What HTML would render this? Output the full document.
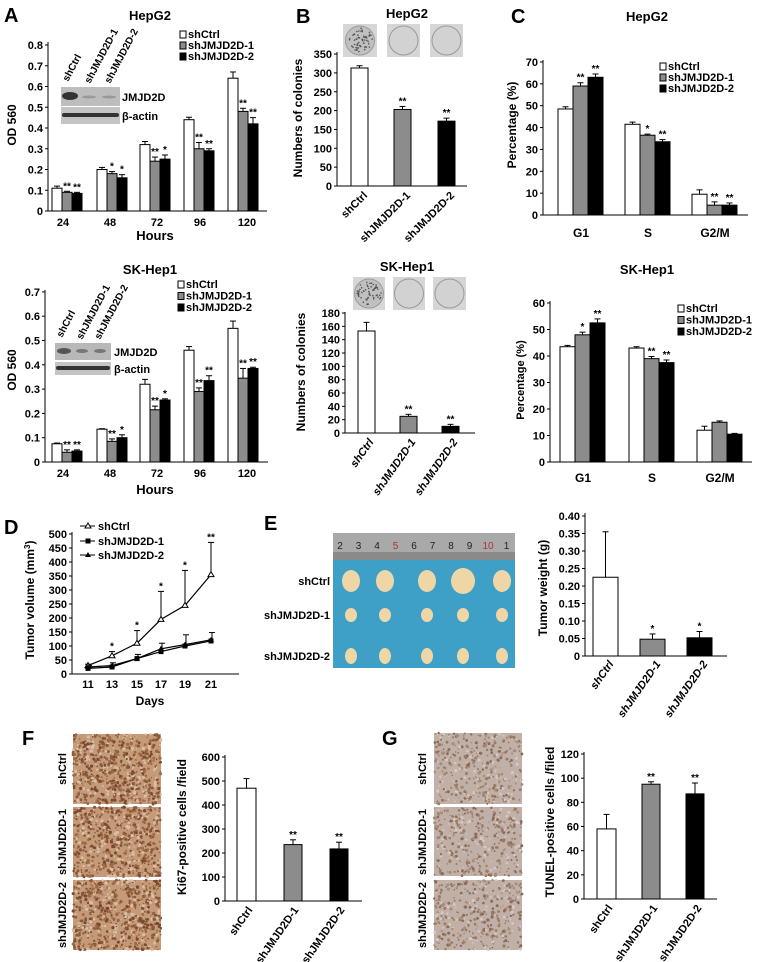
<!DOCTYPE html>
<html><head><meta charset="utf-8"><style>
html,body{margin:0;padding:0;background:#fff}
svg{display:block;font-family:"Liberation Sans",Arial,sans-serif;font-weight:bold}
</style></head><body>
<svg id="s" width="762" height="962" viewBox="0 0 762 962" xmlns="http://www.w3.org/2000/svg">
<g id="g"></g>
</svg>
<script>
var o=[];
var seed=12345;function rnd(){seed=(seed*16807)%2147483647;return seed/2147483647;}
function t(x,y,s,fs,anchor,extra){o.push('<text x="'+x+'" y="'+y+'" font-size="'+(fs||11)+'" text-anchor="'+(anchor||'start')+'" '+(extra||'')+'>'+s+'</text>');}
function l(x1,y1,x2,y2,w){o.push('<line x1="'+x1+'" y1="'+y1+'" x2="'+x2+'" y2="'+y2+'" stroke="#000" stroke-width="'+(w||1)+'"/>');}
function r(x,y,w,h,f,st){o.push('<rect x="'+x+'" y="'+y+'" width="'+w+'" height="'+h+'" fill="'+f+'"'+(st?' stroke="#000" stroke-width="1"':'')+'/>');}
var F=['#fff','#8c8c8c','#000'];
function yaxis(ax,y0,ppu,vals,fmt,top,xend){
 l(ax,y0,ax,top);l(ax,y0,xend,y0);
 vals.forEach(function(v){var y=y0-v*ppu;l(ax-3,y,ax,y);t(ax-5,y+4,fmt(v),11,'end');});
}
function bar(x,w,y0,ppu,v,e,f,star){
 var y=y0-v*ppu;r(x,y,w,v*ppu,f,1);
 if(e){var ye=y-e*ppu;l(x+w/2,y,x+w/2,ye);l(x+w/2-3,ye,x+w/2+3,ye);}
 if(star)t(x+w/2,y-(e||0)*ppu-2,star,10,'middle');
}
function legend(x,y,dy,fs){var n=['shCtrl','shJMJD2D-1','shJMJD2D-2'];n.forEach(function(s,i){r(x,y+i*dy-7,6,7,F[i],1);t(x+8,y+i*dy,s,fs||11);});}
function rot(x,y,s,ang,fs,it){o.push('<text transform="translate('+x+','+y+') rotate('+ang+')" font-size="'+(fs||11)+'" text-anchor="end"'+(it?' font-style="italic"':'')+'>'+s+'</text>');}
function vlab(x,y,s,fs){o.push('<text transform="translate('+x+','+y+') rotate(-90)" font-size="'+(fs||12)+'" text-anchor="middle">'+s+'</text>');}
function speck(x,y,w,h,bg,cols,n,rmax){r(x,y,w,h,bg);for(var i=0;i<n;i++){var c=cols[Math.floor(rnd()*cols.length)];o.push('<circle cx="'+(x+rnd()*w).toFixed(1)+'" cy="'+(y+rnd()*h).toFixed(1)+'" r="'+(0.6+rnd()*rmax).toFixed(1)+'" fill="'+c+'"/>');}}
var f1=function(v){return v==0?'0':v.toFixed(1)};
var fi=function(v){return ''+v};
var groupsA=[52,97,140,184,228],labsA=['24','48','72','96','120'],labXA=[63,110,157,200,247];
// ---- A top
t(4,22,'A',20);t(150,20,'HepG2',13,'middle');
var ppu=207.5,y0=211;
yaxis(48,y0,ppu,[0,.1,.2,.3,.4,.5,.6,.7,.8],f1,42,267);
var At=[[.11,.09,.085],[.2,.18,.16],[.32,.24,.25],[.44,.3,.29],[.64,.48,.42]],
Ate=[[.01,.005,.005],[.01,.01,.015],[.015,.02,.02],[.012,.03,.01],[.03,.015,.03]],
Ats=[['','**','**'],['','*','*'],['','**','*'],['','**','**'],['','**','**']];
for(var i=0;i<5;i++){for(var j=0;j<3;j++)bar(groupsA[i]+j*10,10,y0,ppu,At[i][j],Ate[i][j],F[j],Ats[i][j]);t(labXA[i],226,labsA[i],11,'middle');}
t(155,240,'Hours',13,'middle');vlab(16,125,'OD 560',12);
legend(180,38,11,11);
r(61,87,59,19,'#bdbdbd');r(61,107,59,17,'#c4c4c4');
o.push('<ellipse cx="70" cy="96" rx="8" ry="4" fill="#333"/><ellipse cx="89" cy="97" rx="7" ry="1.5" fill="#999"/><ellipse cx="109" cy="97" rx="7" ry="1.5" fill="#999"/>');
o.push('<rect x="62" y="113" width="57" height="4" fill="#333" rx="2"/>');
t(122,101,'JMJD2D',11);t(122,120,'β-actin',11);
o.push('<text transform="translate(68,82) rotate(-62)" font-size="10">shCtrl</text><text transform="translate(90,84) rotate(-62)" font-size="10">shJMJD2D-1</text><text transform="translate(110,84) rotate(-62)" font-size="10">shJMJD2D-2</text>');
// ---- A bottom
t(150,274,'SK-Hep1',13,'middle');
ppu=243;y0=462;
yaxis(45,y0,ppu,[0,.1,.2,.3,.4,.5,.6,.7],f1,290,268);
var Ab=[[.075,.04,.045],[.135,.085,.1],[.32,.215,.255],[.46,.29,.335],[.55,.345,.385]],
Abe=[[.003,.01,.005],[.002,.01,.012],[.02,.015,.005],[.015,.015,.02],[.03,.04,.005]],
Abs=[['','**','**'],['','**','*'],['','**','*'],['','**','**'],['','**','**']];
for(var i=0;i<5;i++){for(var j=0;j<3;j++)bar(groupsA[i]+j*10,10,y0,ppu,Ab[i][j],Abe[i][j],F[j],Abs[i][j]);t(labXA[i],477,labsA[i],11,'middle');}
t(155,494,'Hours',13,'middle');vlab(16,370,'OD 560',12);
legend(178,288,11.5,11);
r(55,343,56,17,'#b8b8b8');r(55,362,56,13,'#c4c4c4');
o.push('<ellipse cx="64" cy="351" rx="7" ry="3" fill="#555"/><ellipse cx="82" cy="351" rx="6" ry="2" fill="#777"/><ellipse cx="100" cy="351" rx="6" ry="2" fill="#777"/><rect x="56" y="366" width="54" height="4" fill="#333" rx="2"/>');
t(114,356,'JMJD2D',11);t(114,373,'β-actin',11);
o.push('<text transform="translate(62,338) rotate(-62)" font-size="10">shCtrl</text><text transform="translate(82,340) rotate(-62)" font-size="10">shJMJD2D-1</text><text transform="translate(100,340) rotate(-62)" font-size="10">shJMJD2D-2</text>');
// ---- B top
t(296,23,'B',20);t(407,18,'HepG2',13,'middle');
function dish(x,y,w,h,dark){r(x,y,w,h,'#d6d6d6');var cx=x+w/2,cy=y+h/2,R=h/2-2;o.push('<circle cx="'+cx+'" cy="'+cy+'" r="'+R+'" fill="'+(dark?'#c0c0c0':'#d2d2d2')+'" stroke="#999"/>');if(dark){for(var i=0;i<60;i++){var a=rnd()*6.283,d=Math.sqrt(rnd())*(R-2);o.push('<circle cx="'+(cx+Math.cos(a)*d).toFixed(1)+'" cy="'+(cy+Math.sin(a)*d).toFixed(1)+'" r="0.8" fill="#555"/>');}}}
dish(343,24,34,33,1);dish(387,24,33,33);dish(430,24,33,33);
ppu=0.377;y0=186;
yaxis(337,y0,ppu,[0,50,100,150,200,250,300,350],fi,52,467);
bar(351,17,y0,ppu,313,6,F[0]);bar(394,17,y0,ppu,203,8,F[1],'**');bar(438,17,y0,ppu,172,8,F[2],'**');
rot(368,196,'shCtrl',-45);rot(411,196,'shJMJD2D-1',-45);rot(455,196,'shJMJD2D-2',-45);
vlab(302,118,'Numbers of colonies',12);
// ---- B bottom
t(407,271,'SK-Hep1',13,'middle');
dish(353,277,32,33,1);dish(393,277,32,33);dish(433,277,33,33);
ppu=0.6667;y0=433;
yaxis(345,y0,ppu,[0,20,40,60,80,100,120,140,160,180],fi,312,475);
bar(358,17,y0,ppu,153,13,F[0]);bar(400,17,y0,ppu,25,3,F[1],'**');bar(442,17,y0,ppu,10,3,F[2],'**');
rot(374,442,'shCtrl',-55,11,1);rot(416,442,'shJMJD2D-1',-55,11,1);rot(458,442,'shJMJD2D-2',-55,11,1);
vlab(305,372,'Numbers of colonies',12);
// ---- C top
t(511,23,'C',20);t(647,21,'HepG2',13,'middle');
ppu=2.186;y0=215;
yaxis(543,y0,ppu,[0,10,20,30,40,50,60,70],fi,60,748);
var Ct=[[48.5,59,63],[41.5,36.5,33.5],[9.5,4.5,4.5]],Cte=[[1,1.5,1.5],[1,.5,1],[2,1.5,1]],Cts=[['','**','**'],['','*','**'],['','**','**']],gC=[558,625,692],lC=['G1','S','G2/M'];
for(var i=0;i<3;i++){for(var j=0;j<3;j++)bar(gC[i]+j*15,15,y0,ppu,Ct[i][j],Cte[i][j],F[j],Cts[i][j]);t(gC[i]+23,237,lC[i],12,'middle');}
legend(660,70,11,11);vlab(516,125,'Percentage (%)',12);
// ---- C bottom
t(647,274,'SK-Hep1',13,'middle');
ppu=2.65;y0=462;
yaxis(550,y0,ppu,[0,10,20,30,40,50,60],fi,301,752);
var Cb=[[43.5,48,52.5],[43,39,37.5],[12,15,10.5]],Cbe=[[.5,1,1.5],[.5,.8,1],[1.5,.5,.3]],Cbs=[['','*','**'],['','**','**'],['','','']],gC2=[560,629,697];
for(var i=0;i<3;i++){for(var j=0;j<3;j++)bar(gC2[i]+j*15,15,y0,ppu,Cb[i][j],Cbe[i][j],F[j],Cbs[i][j]);t(gC2[i]+23,482,lC[i],12,'middle');}
legend(678,312,11.5,11);vlab(524,380,'Percentage (%)',11);
// ---- D
t(4,534,'D',20);
ppu=0.28;y0=674;
yaxis(72,y0,ppu,[0,50,100,150,200,250,300,350,400,450,500],fi,532,239);
var dx=[88,112,137,161,185,211],d0=[30,65,110,195,245,355],d0e=[35,80,155,295,370,470],d1=[20,25,55,80,100,118],d2=[25,30,55,90,105,122],d1e=[30,40,70,110,140,148];
function poly(a){return a.map(function(v,i){return dx[i]+','+(y0-v*ppu)}).join(' ');}
for(var i=0;i<6;i++){var x=dx[i];l(x,y0-d0[i]*ppu,x,y0-d0e[i]*ppu);l(x-3,y0-d0e[i]*ppu,x+3,y0-d0e[i]*ppu);l(x+1,y0-d2[i]*ppu,x+1,y0-d1e[i]*ppu);l(x-2,y0-d1e[i]*ppu,x+4,y0-d1e[i]*ppu);
 t(x,y0-d0e[i]*ppu-2,i==0?'':(i==5?'**':'*'),10,'middle');t(x,688,''+(11+2*i),11,'middle');}
o.push('<polyline points="'+poly(d0)+'" fill="none" stroke="#000" stroke-width="1.2"/><polyline points="'+poly(d1)+'" fill="none" stroke="#000" stroke-width="1.2"/><polyline points="'+poly(d2)+'" fill="none" stroke="#000" stroke-width="1.2"/>');
for(var i=0;i<6;i++){var x=dx[i];o.push('<path d="M'+(x-3)+','+(y0-d0[i]*ppu+2)+' L'+(x+3)+','+(y0-d0[i]*ppu+2)+' L'+x+','+(y0-d0[i]*ppu-3)+'Z" fill="#fff" stroke="#000"/>');r(x-2.5,y0-d1[i]*ppu-2.5,5,5,'#000');o.push('<path d="M'+(x-3)+','+(y0-d2[i]*ppu+2)+' L'+(x+3)+','+(y0-d2[i]*ppu+2)+' L'+x+','+(y0-d2[i]*ppu-3)+'Z" fill="#000"/>');}
t(150,705,'Days',12,'middle');
vlab(34,600,'Tumor volume (mm<tspan baseline-shift="super" font-size="8">3</tspan>)',12);
l(80,526,95,526);o.push('<path d="M85,528 L91,528 L88,523Z" fill="#fff" stroke="#000"/>');t(98,530,'shCtrl',11);
l(80,541,95,541);r(85.5,538.5,5,5,'#000');t(98,545,'shJMJD2D-1',11);
l(80,555,95,555);o.push('<path d="M85,557 L91,557 L88,552Z" fill="#000"/>');t(98,559,'shJMJD2D-2',11);
// ---- E
t(264,530,'E',20);
r(333,533,182,135,'#3e9fc7');r(333,533,182,27,'#a9a9a9');r(333,552,182,8,'#8a8a8a');
var nums=['2','3','4','5','6','7','8','9','10','1'];nums.forEach(function(n,i){t(340+i*18.5,549,n,10,'middle','font-weight="normal" fill="'+((n=='5'||n=='10')?'#a33':'#222')+'"');});
var tx=[351,385,427,463,502],rows=[[581,9,11],[615,6,7],[656,6,8]];
rows.forEach(function(rw,k){tx.forEach(function(x,i){var rx=rw[1]+(k==0&&i==3?3:0),ry=rw[2]+(k==0&&i==3?2:0);o.push('<ellipse cx="'+x+'" cy="'+rw[0]+'" rx="'+rx+'" ry="'+ry+'" fill="#efd6a6"/>');});});
t(330,585,'shCtrl',11,'end');t(330,619,'shJMJD2D-1',11,'end');t(330,660,'shJMJD2D-2',11,'end');
ppu=350;y0=656;
yaxis(585,y0,ppu,[0,.05,.1,.15,.2,.25,.3,.35,.4],function(v){return v==0?'0':v.toFixed(2)},513,727);
bar(593,25,y0,ppu,.225,.13,F[0]);bar(640,25,y0,ppu,.048,.015,F[1],'*');bar(687,25,y0,ppu,.052,.018,F[2],'*');
rot(614,664,'shCtrl',-55,11,1);rot(661,664,'shJMJD2D-1',-55,11,1);rot(708,664,'shJMJD2D-2',-55,11,1);
vlab(547,588,'Tumor weight (g)',12);
// ---- F
t(22,745,'F',20);
[[734,804],[807,877],[880,950]].forEach(function(p){speck(73,p[0],88,p[1]-p[0],'#c49a78',['#8a5a3a','#a06a45','#d8c0a8','#7a4a30'],700,1.1);});
vlab(66,769,'shCtrl',11);vlab(66,842,'shJMJD2D-1',11);vlab(66,915,'shJMJD2D-2',11);
ppu=0.24;y0=901;
yaxis(225,y0,ppu,[0,100,200,300,400,500,600],fi,755,362);
bar(237,19,y0,ppu,470,40,F[0]);bar(284,18,y0,ppu,235,20,F[1],'**');bar(330,18,y0,ppu,217,28,F[2],'**');
rot(253,910,'shCtrl',-55);rot(299,910,'shJMJD2D-1',-55);rot(345,910,'shJMJD2D-2',-55);
vlab(186,827,'Ki67-positive cells /field',12);
// ---- G
t(382,745,'G',20);
[[733,804],[807,876],[880,950]].forEach(function(p){speck(434,p[0],88,p[1]-p[0],'#c0b0a8',['#8a6a5a','#a88a78','#d6cac4','#9a7a60'],400,1.0);});
vlab(426,769,'shCtrl',11);vlab(426,842,'shJMJD2D-1',11);vlab(426,915,'shJMJD2D-2',11);
ppu=1.2083;y0=899;
yaxis(584,y0,ppu,[0,20,40,60,80,100,120],fi,752,717);
bar(597,19,y0,ppu,58,12,F[0]);bar(642,18,y0,ppu,95,2,F[1],'**');bar(686,18,y0,ppu,87,9,F[2],'**');
rot(613,908,'shCtrl',-55);rot(658,908,'shJMJD2D-1',-55);rot(702,908,'shJMJD2D-2',-55);
vlab(554,822,'TUNEL-positive cells /filed',12);
document.getElementById('g').innerHTML=o.join('');
</script>
</body></html>
